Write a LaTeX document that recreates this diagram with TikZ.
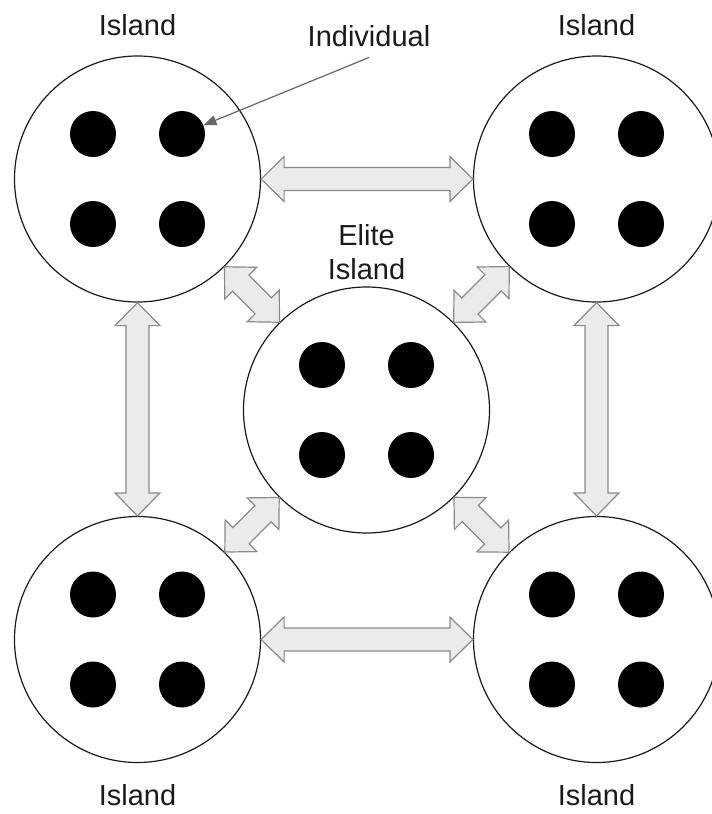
\documentclass[tikz,border=0pt]{standalone}
\usepackage{fontspec}
\setmainfont{Liberation Sans}
\usetikzlibrary{calc,arrows.meta}

\definecolor{arrowfill}{HTML}{EBEBEB}
\definecolor{arrowline}{HTML}{8A8A8A}
\definecolor{pointerline}{HTML}{666666}
\definecolor{ink}{HTML}{1A1A1A}

% dimensions of the double-headed migration arrows
\def\mhl{23pt}   % head length
\def\mhw{22.5pt} % head half width
\def\mbw{11.5pt} % shaft half width

% fat double-headed arrow running between the borders of two nodes
\newcommand\migrate[2]{%
  \path (#1) -- coordinate[pos=0] (m-s) coordinate[pos=1] (m-e) (#2);
  \draw[migration] (m-s)
    -- ($(m-s)!\mhl!(m-e)!\mhw!90:(m-e)$)
    -- ($(m-s)!\mhl!(m-e)!\mbw!90:(m-e)$)
    -- ($(m-e)!\mhl!(m-s)!\mbw!-90:(m-s)$)
    -- ($(m-e)!\mhl!(m-s)!\mhw!-90:(m-s)$)
    -- (m-e)
    -- ($(m-e)!\mhl!(m-s)!\mhw!90:(m-s)$)
    -- ($(m-e)!\mhl!(m-s)!\mbw!90:(m-s)$)
    -- ($(m-s)!\mhl!(m-e)!\mbw!-90:(m-e)$)
    -- ($(m-s)!\mhl!(m-e)!\mhw!-90:(m-e)$)
    -- cycle;
}

\tikzset{
  island/.style={circle, draw=ink, line width=1.2pt, minimum size=246pt, inner sep=0pt, fill=white},
  member/.style={circle, fill=black, minimum size=46pt, inner sep=0pt},
  caption/.style={font=\fontsize{29}{34}\selectfont, text=ink, inner sep=0pt, anchor=base},
  migration/.style={draw=arrowline, fill=arrowfill, line width=1.2pt, line join=miter},
  pointer/.style={draw=pointerline, line width=1.2pt, -{Triangle[length=13pt,width=10pt]}},
}

\begin{document}
\begin{tikzpicture}[x=1pt, y=-1pt]
  \useasboundingbox (0,0) rectangle (712,814);

  % islands
  \node[island] (tl) at (137.5,179) {};
  \node[island] (tr) at (596.5,179) {};
  \node[island] (c)  at (366.5,410) {};
  \node[island] (bl) at (137.5,639.5) {};
  \node[island] (br) at (596.5,639.5) {};

  % individuals inside each island
  \foreach \isl in {tl,tr,c,bl,br}{
    \foreach \i/\dx/\dy in {1/-44.5/-45, 2/44.5/-45, 3/-44.5/45, 4/44.5/45}{
      \node[member] (\isl-\i) at ($(\isl)+(\dx,\dy)$) {};
    }
  }

  % migration between islands
  \migrate{tl}{tr}
  \migrate{bl}{br}
  \migrate{tl}{bl}
  \migrate{tr}{br}
  \migrate{tl}{c}
  \migrate{tr}{c}
  \migrate{bl}{c}
  \migrate{br}{c}

  % captions
  \node[caption] (tl-cap) at (137.5,35) {Island};
  \node[caption] (tr-cap) at (596.5,35) {Island};
  \node[caption] (bl-cap) at (137.5,805) {Island};
  \node[caption] (br-cap) at (596.5,805) {Island};
  \node[caption] (c-cap1) at (366.5,245) {Elite};
  \node[caption] (c-cap2) at (366.5,279) {Island};
  \node[caption] (indiv) at (369,46) {Individual};

  \draw[pointer] ([yshift=-11pt]indiv.south) -- (tl-2);
\end{tikzpicture}
\end{document}
